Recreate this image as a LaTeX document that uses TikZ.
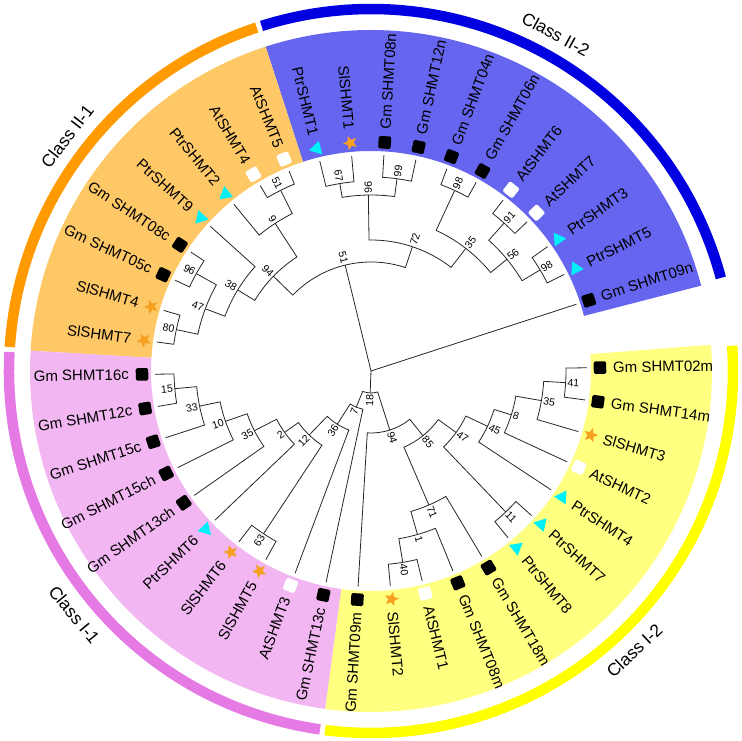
\documentclass[tikz,border=0pt]{standalone}
\usepackage{fontspec}
\setmainfont{Liberation Sans}
\usetikzlibrary{shapes.geometric}
\definecolor{BandBlue}{HTML}{6565F0}
\definecolor{BandOrange}{HTML}{FFC866}
\definecolor{BandPink}{HTML}{F2B6F2}
\definecolor{BandYellow}{HTML}{FFFF80}
\definecolor{RingBlue}{HTML}{0000E0}
\definecolor{RingOrange}{HTML}{FF9A00}
\definecolor{RingPink}{HTML}{E57AE5}
\definecolor{RingYellow}{HTML}{FFFF00}
\definecolor{TriCyan}{HTML}{00F0F8}
\definecolor{StarOrange}{HTML}{F7A020}

\begin{document}
\begin{tikzpicture}[x=1pt,y=1pt,
    branch/.style={draw=black!85,line width=0.8pt},
    bsr/.style={anchor=west,rotate=#1,inner sep=0.8pt,font=\fontsize{10.5}{11}\selectfont},
    bsl/.style={anchor=east,rotate=#1-180,inner sep=0.8pt,font=\fontsize{10.5}{11}\selectfont},
    leafr/.style={anchor=west,rotate=#1,inner sep=0pt,font=\fontsize{15}{16}\selectfont},
    leafl/.style={anchor=east,rotate=#1-180,inner sep=0pt,font=\fontsize{15}{16}\selectfont},
    gmbox/.style={fill=black,rounded corners=1.5pt,minimum size=12.5pt,inner sep=0pt},
    atbox/.style={fill=white,rounded corners=1.5pt,minimum size=12.5pt,inner sep=0pt},
    ptrtri/.style={regular polygon,regular polygon sides=3,fill=TriCyan,minimum size=16pt,inner sep=0pt},
    slstar/.style={star,star points=5,star point ratio=2.3,fill=StarOrange,minimum size=15pt,inner sep=0pt},
    classlab/.style={font=\fontsize{17.5}{19}\selectfont}
]
\useasboundingbox (-371,-370) rectangle (371,371);

% class bands
\fill[BandBlue] (14.5:220) arc[start angle=14.5,end angle=108,radius=220] -- (108:341) arc[start angle=108,end angle=14.5,radius=341] -- cycle;
\fill[BandOrange] (108:220) arc[start angle=108,end angle=176.57,radius=220] -- (176.57:341) arc[start angle=176.57,end angle=108,radius=341] -- cycle;
\fill[BandPink] (176.57:220) arc[start angle=176.57,end angle=262.29,radius=220] -- (262.29:341) arc[start angle=262.29,end angle=176.57,radius=341] -- cycle;
\fill[BandYellow] (262.29:220) arc[start angle=262.29,end angle=364.4,radius=220] -- (364.4:341) arc[start angle=364.4,end angle=262.29,radius=341] -- cycle;

% outer rings
\draw[RingBlue,line width=10.5] (14.9:362) arc[start angle=14.9,end angle=107.6,radius=362];
\draw[RingOrange,line width=10.5] (108.4:362) arc[start angle=108.4,end angle=176.2,radius=362];
\draw[RingPink,line width=10.5] (177:362) arc[start angle=177,end angle=261.9,radius=362];
\draw[RingYellow,line width=10.5] (262.7:362) arc[start angle=262.7,end angle=364,radius=362];

\node[classlab,rotate=-28.75] (c22) at (61.25:384) {Class II-2};
\node[classlab,rotate=52.3] (c21) at (142.3:384) {Class II-1};
\node[classlab,rotate=-50.6] (c11) at (219.4:384) {Class I-1};
\node[classlab,rotate=43.3] (c12) at (313.3:384) {Class I-2};

% tree: class II-2
\draw[branch] (95.14:216) -- (95.14:190) arc[start angle=95.14,end angle=103.71,radius=190] -- (103.71:216);
\draw[branch] (78:216) -- (78:194) arc[start angle=78,end angle=86.57,radius=194] -- (86.57:216);
\draw[branch] (82.29:194) -- (82.29:176) arc[start angle=82.29,end angle=99.43,radius=176] -- (99.43:190);
\draw[branch] (60.86:216) -- (60.86:199) arc[start angle=60.86,end angle=69.43,radius=199] -- (69.43:216);
\draw[branch] (43.71:216) -- (43.71:199) arc[start angle=43.71,end angle=52.29,radius=199] -- (52.29:216);
\draw[branch] (26.57:216) -- (26.57:197) arc[start angle=26.57,end angle=35.14,radius=197] -- (35.14:216);
\draw[branch] (30.86:197) -- (30.86:176) arc[start angle=30.86,end angle=48,radius=176] -- (48:199);
\draw[branch] (39.43:176) -- (39.43:155) arc[start angle=39.43,end angle=65.14,radius=155] -- (65.14:199);
\draw[branch] (52.29:155) -- (52.29:131) arc[start angle=52.29,end angle=90.86,radius=131] -- (90.86:176);
% tree: class II-1
\draw[branch] (112.29:216) -- (112.29:202) arc[start angle=112.29,end angle=120.86,radius=202] -- (120.86:216);
\draw[branch] (116.57:202) -- (116.57:176) arc[start angle=116.57,end angle=129.43,radius=176] -- (129.43:216);
\draw[branch] (146.57:216) -- (146.57:200) arc[start angle=146.57,end angle=155.14,radius=200] -- (155.14:216);
\draw[branch] (163.71:216) -- (163.71:199) arc[start angle=163.71,end angle=172.29,radius=199] -- (172.29:216);
\draw[branch] (150.86:200) -- (150.86:177) arc[start angle=150.86,end angle=168,radius=177] -- (168:199);
\draw[branch] (138:216) -- (138:156) arc[start angle=138,end angle=159.43,radius=156] -- (159.43:177);
\draw[branch] (123:176) -- (123:136) arc[start angle=123,end angle=148.71,radius=136] -- (148.71:156);
\draw[branch] (71.57:131) -- (71.57:109) arc[start angle=71.57,end angle=135.86,radius=109] -- (135.86:136);
% tree: class I-1
\draw[branch] (180.86:216) -- (180.86:197) arc[start angle=180.86,end angle=189.43,radius=197] -- (189.43:216);
\draw[branch] (185.14:197) -- (185.14:175) arc[start angle=185.14,end angle=198,radius=175] -- (198:216);
\draw[branch] (191.57:175) -- (191.57:154) arc[start angle=191.57,end angle=206.57,radius=154] -- (206.57:216);
\draw[branch] (199.07:154) -- (199.07:131) arc[start angle=199.07,end angle=215.14,radius=131] -- (215.14:216);
\draw[branch] (207.1:131) -- (207.1:106) arc[start angle=207.1,end angle=223.71,radius=106] -- (223.71:216);
\draw[branch] (232.29:216) -- (232.29:195) arc[start angle=232.29,end angle=240.86,radius=195] -- (240.86:216);
\draw[branch] (215.4:106) -- (215.4:89) arc[start angle=215.4,end angle=236.57,radius=89] -- (236.57:195);
\draw[branch] (226:89) -- (226:63) arc[start angle=226,end angle=249.43,radius=63] -- (249.43:216);
\draw[branch] (237.7:63) -- (237.7:39) arc[start angle=237.7,end angle=258,radius=39] -- (258:216);
% tree: class I-2
\draw[branch] (275.14:216) -- (275.14:194) arc[start angle=275.14,end angle=283.71,radius=194] -- (283.71:216);
\draw[branch] (279.43:194) -- (279.43:170) arc[start angle=279.43,end angle=292.29,radius=170] -- (292.29:216);
\draw[branch] (285.86:170) -- (285.86:146) arc[start angle=285.86,end angle=300.86,radius=146] -- (300.86:216);
\draw[branch] (309.43:216) -- (309.43:195) arc[start angle=309.43,end angle=318,radius=195] -- (318:216);
\draw[branch] (352.29:216) -- (352.29:195) arc[start angle=352.29,end angle=360.86,radius=195] -- (360.86:216);
\draw[branch] (343.71:216) -- (343.71:173) arc[start angle=343.71,end angle=356.57,radius=173] -- (356.57:195);
\draw[branch] (335.14:216) -- (335.14:147) arc[start angle=335.14,end angle=350.14,radius=147] -- (350.14:173);
\draw[branch] (326.57:216) -- (326.57:129) arc[start angle=326.57,end angle=342.64,radius=129] -- (342.64:147);
\draw[branch] (313.71:195) -- (313.71:105) arc[start angle=313.71,end angle=334.6,radius=105] -- (334.6:129);
\draw[branch] (293.36:146) -- (293.36:83) arc[start angle=293.36,end angle=324.16,radius=83] -- (324.16:105);
\draw[branch] (266.57:216) -- (266.57:62) arc[start angle=266.57,end angle=308.76,radius=62] -- (308.76:83);
\draw[branch] (247.86:39) -- (247.86:22) arc[start angle=247.86,end angle=287.67,radius=22] -- (287.67:62);
% root
\coordinate (root) at (0,0);
\draw[branch] (root) -- (103.71:109) (root) -- (18:216) (root) -- (267.76:22);

% bootstrap values
\foreach \a/\r/\v in {82.29/195/99,65.14/200/98,48/200/91,30.86/198/98,39.43/177/56,52.29/156/35,71.57/132/72,
    279.43/195/40,285.86/171/1,293.36/147/71,313.71/196/11,356.57/196/41,350.14/174/35,342.64/148/8,
    334.6/130/45,324.16/106/47,308.76/84/85,287.67/63/94}
  \node[bsr=\a] (b\v-\r) at (\a:\r) {\v};
\foreach \a/\r/\v in {99.43/191/67,90.86/177/96,103.71/110/51,116.57/203/51,123/177/9,150.86/201/96,
    168/200/80,159.43/178/47,148.71/157/38,135.86/137/94,185.14/198/15,191.57/176/33,199.07/155/10,
    207.1/132/35,215.4/107/2,236.57/196/63,226/90/12,237.7/64/36,247.86/40/7,267.76/23/18}
  \node[bsl=\a] (b\v-\r) at (\a:\r) {\v};

% leaves
\foreach \i/\txt/\mk in {0/Gm SHMT09n/gmbox,1/PtrSHMT5/ptrtri,2/PtrSHMT3/ptrtri,3/AtSHMT7/atbox,
    4/AtSHMT6/atbox,5/Gm SHMT06n/gmbox,6/Gm SHMT04n/gmbox,7/Gm SHMT12n/gmbox,8/Gm SHMT08n/gmbox,
    30/SlSHMT2/slstar,31/AtSHMT1/atbox,32/Gm SHMT08m/gmbox,33/Gm SHMT18m/gmbox,34/PtrSHMT8/ptrtri,
    35/PtrSHMT7/ptrtri,36/PtrSHMT4/ptrtri,37/AtSHMT2/atbox,38/SlSHMT3/slstar,39/Gm SHMT14m/gmbox,
    40/Gm SHMT02m/gmbox}{
  \pgfmathsetmacro\a{18+360/42*\i}
  \node[\mk,rotate=\a] (m\i) at (\a:229) {};
  \node[leafr=\a] (t\i) at (\a:242) {\txt};
}
\foreach \i/\txt/\mk in {9/SlSHMT1/slstar,10/PtrSHMT1/ptrtri,11/AtSHMT5/atbox,12/AtSHMT4/atbox,
    13/PtrSHMT2/ptrtri,14/PtrSHMT9/ptrtri,15/Gm SHMT08c/gmbox,16/Gm SHMT05c/gmbox,17/SlSHMT4/slstar,
    18/SlSHMT7/slstar,19/Gm SHMT16c/gmbox,20/Gm SHMT12c/gmbox,21/Gm SHMT15c/gmbox,22/Gm SHMT15ch/gmbox,
    23/Gm SHMT13ch/gmbox,24/PtrSHMT6/ptrtri,25/SlSHMT6/slstar,26/SlSHMT5/slstar,27/AtSHMT3/atbox,
    28/Gm SHMT13c/gmbox,29/Gm SHMT09m/gmbox}{
  \pgfmathsetmacro\a{18+360/42*\i}
  \node[\mk,rotate=\a] (m\i) at (\a:229) {};
  \node[leafl=\a] (t\i) at (\a:242) {\txt};
}
\end{tikzpicture}
\end{document}
